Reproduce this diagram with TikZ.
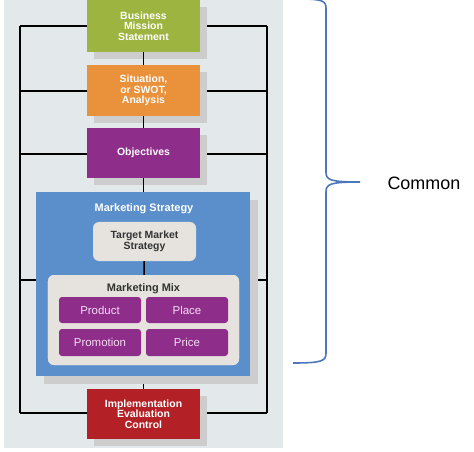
\documentclass[tikz,border=0pt]{standalone}
\usepackage{fontspec}
\setmainfont{Liberation Sans}
\usetikzlibrary{shadows}
\definecolor{panel}{HTML}{E3E9EB}
\definecolor{shade}{HTML}{CDCDCD}
\definecolor{olive}{HTML}{9DB540}
\definecolor{orng}{HTML}{E9913B}
\definecolor{purp}{HTML}{8F2D8B}
\definecolor{mblue}{HTML}{5B8FCB}
\definecolor{lgray}{HTML}{E6E3DF}
\definecolor{dred}{HTML}{B32127}
\definecolor{bracec}{HTML}{4C78BA}
\definecolor{pinkw}{HTML}{F3DDF0}
\definecolor{dtext}{HTML}{333333}
\tikzset{
  conn/.style={draw=black, line width=1.5bp},
  mainbox/.style={minimum width=113bp, inner sep=0pt, align=center,
    text=white, font=\bfseries\fontsize{10.5}{10.5}\selectfont,
    general shadow={fill=shade, shadow xshift=7bp, shadow yshift=-7bp}},
  graybox/.style={fill=lgray, rounded corners=6bp, inner sep=0pt, align=center},
  mixbox/.style={fill=purp, rounded corners=3bp, minimum width=82bp, inner sep=0pt,
    text=pinkw, font=\fontsize{11.5}{12}\selectfont},
}
\begin{document}
\begin{tikzpicture}[x=1bp, y=-1bp]
\useasboundingbox (0,0) rectangle (474,452);
% panel
\fill[panel] (4,0) rectangle (283,448);
% frame coordinates
\coordinate (tl) at (20,26);
\coordinate (tr) at (267,26);
\coordinate (bl) at (20,413);
\coordinate (br) at (267,413);
\coordinate (l2) at (20,91);
\coordinate (r2) at (267,91);
\coordinate (l3) at (20,154);
\coordinate (r3) at (267,154);
\coordinate (l4) at (20,280);
\coordinate (r4) at (267,280);
% frame
\draw[conn] (tl) -- (bl);
\draw[conn] (tr) -- (br);
\draw[conn] (tl) -- (tr);
\draw[conn] (l2) -- (r2);
\draw[conn] (l3) -- (r3);
\draw[conn] (l4) -- (r4);
\draw[conn] (bl) -- (br);
% nodes
\node[mainbox, fill=olive, minimum height=52bp] (bms) at (143.5,26) {Business\\Mission\\Statement};
\node[mainbox, fill=orng, minimum height=51bp] (swot) at (143.5,90.5) {Situation,\\or SWOT,\\Analysis};
\node[mainbox, fill=purp, minimum height=50bp] (obj) at (143.5,153) {Objectives};
\node[mainbox, fill=dred, minimum height=50bp] (impl) at (143.5,414) {Implementation\\Evaluation\\Control};
\draw[conn] (bms) -- (swot);
\draw[conn] (swot) -- (obj);
\draw[conn] (obj) -- (143.5,192);
\draw[conn] (143.5,376) -- (impl);
\node[fill=mblue, minimum width=214bp, minimum height=184bp, inner sep=0pt,
  general shadow={fill=shade, shadow xshift=8bp, shadow yshift=-8bp}] (ms) at (143,284) {};
\node[text=white, font=\bfseries\fontsize{11}{12}\selectfont] (mslabel) at (144,208.5) {Marketing Strategy};
\node[graybox, minimum width=103bp, minimum height=39bp, text=dtext,
  font=\bfseries\fontsize{10.5}{10.5}\selectfont] (tms) at (144.5,241.5) {Target Market\\Strategy};
\node[graybox, minimum width=191bp, minimum height=90bp] (mix) at (143.5,320) {};
\draw[conn] (tms) -- (mix);
\node[graybox, minimum width=191bp, minimum height=90bp] (mix2) at (143.5,320) {};
\node[text=dtext, font=\bfseries\fontsize{11}{12}\selectfont] (mixlabel) at (143.5,288.5) {Marketing Mix};
\node[mixbox, minimum height=26bp] (prod) at (100,310) {Product};
\node[mixbox, minimum height=26bp] (place) at (187,310) {Place};
\node[mixbox, minimum height=27bp] (promo) at (100,342.5) {Promotion};
\node[mixbox, minimum height=27bp] (price) at (187,342.5) {Price};
% brace
\coordinate (tip) at (360,182);
\draw[bracec, line width=1.6bp]
  (300,-1) .. controls (322,-1) and (326,1) .. (326,8)
  -- (326,172) .. controls (326,180) and (330,182) .. (tip)
  .. controls (330,182) and (326,184) .. (326,192)
  -- (326,353) .. controls (326,361) and (322,363) .. (293,363);
\node[font=\fontsize{18}{20}\selectfont, anchor=west] (common) at (384,183) {Common};
\end{tikzpicture}
\end{document}
